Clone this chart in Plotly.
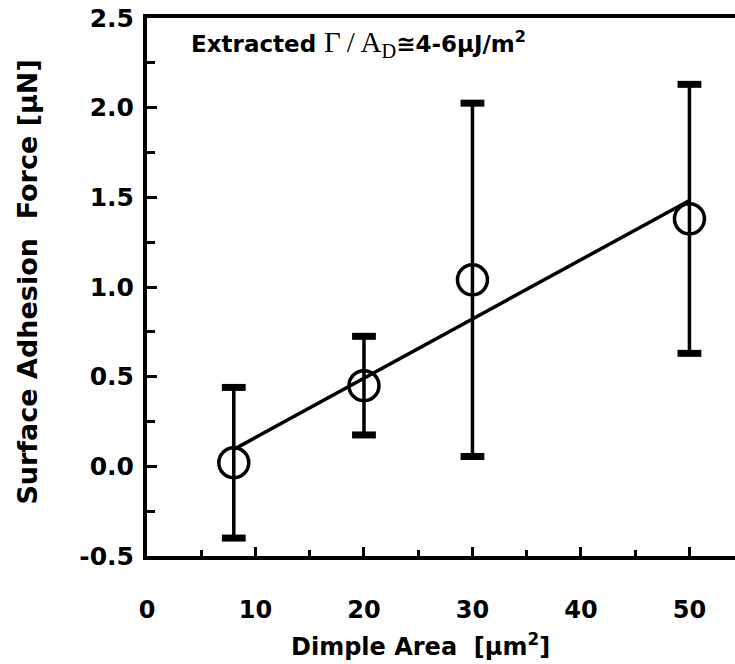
import numpy as np
import plotly.graph_objects as go

# Measured adhesion force vs. dimple area
dimple_area = [8, 20, 30, 50]                 # µm²
adhesion_force = [0.02, 0.45, 1.04, 1.38]     # µN
force_error = [0.42, 0.275, 0.985, 0.75]      # µN (± one std. dev.)

y_tick_vals = [-0.5, 0.0, 0.5, 1.0, 1.5, 2.0, 2.5]
y_tick_text = ["-0.5", "0.0", "0.5", "1.0", "1.5", "2.0", "2.5"]
x_tick_vals = [0, 10, 20, 30, 40, 50]
x_tick_text = ["0", "10", "20", "30", "40", "50"]

FONT = "DejaVu Sans, Arial, sans-serif"
SERIF = "'Liberation Serif', 'Times New Roman', serif"
INK = "#000000"

# Linear fit through the measured points
slope, intercept = np.polyfit(dimple_area, adhesion_force, 1)
fit_x = [min(dimple_area), max(dimple_area)]
fit_y = [slope * v + intercept for v in fit_x]

fig = go.Figure()

fig.add_trace(go.Scatter(
    x=fit_x, y=fit_y, mode="lines",
    line=dict(color=INK, width=3.5),
    showlegend=False, hoverinfo="skip",
))

fig.add_trace(go.Scatter(
    x=dimple_area, y=adhesion_force, mode="markers",
    marker=dict(symbol="circle-open", size=30, color=INK, line=dict(width=3.5, color=INK)),
    error_y=dict(type="data", array=force_error, visible=True,
                 color=INK, thickness=3.5, width=9),
    showlegend=False,
))

# Heavy caps on the error bars
cap_x = dimple_area + dimple_area
cap_y = [f + e for f, e in zip(adhesion_force, force_error)] + \
        [f - e for f, e in zip(adhesion_force, force_error)]
fig.add_trace(go.Scatter(
    x=cap_x, y=cap_y, mode="markers",
    marker=dict(symbol="line-ew", size=17, color=INK, line=dict(width=7, color=INK)),
    showlegend=False, hoverinfo="skip",
))

fig.update_layout(
    width=735, height=664,
    margin=dict(l=147, r=0, t=18, b=108),
    paper_bgcolor="white", plot_bgcolor="white",
    font=dict(family=FONT, color=INK, size=24),
    showlegend=False,
    xaxis=dict(
        range=[0, 54.2],
        tickvals=x_tick_vals, ticktext=x_tick_text,
        ticks="inside", ticklen=9, tickwidth=3, tickcolor=INK,
        minor=dict(dtick=5, tick0=0, ticks="inside", ticklen=6, tickwidth=3, tickcolor=INK),
        showline=True, linewidth=4, linecolor=INK, mirror=True,
        showgrid=False, zeroline=False,
        tickfont=dict(family=FONT, size=24, color=INK, weight="bold"),
        ticklabelstandoff=29,
    ),
    yaxis=dict(
        range=[-0.5, 2.5],
        tickvals=y_tick_vals, ticktext=y_tick_text,
        ticks="inside", ticklen=10, tickwidth=3, tickcolor=INK,
        minor=dict(dtick=0.25, tick0=0, ticks="inside", ticklen=8, tickwidth=3, tickcolor=INK),
        showline=True, linewidth=4, linecolor=INK,
        showgrid=False, zeroline=False,
        tickfont=dict(family=FONT, size=25, color=INK, weight="bold"),
        ticklabelstandoff=4,
    ),
)

fig.add_annotation(
    xref="paper", yref="paper", x=0.4643, y=-0.1654,
    text="Dimple Area  [μm<sup>2</sup>]", showarrow=False,
    xanchor="center", yanchor="middle",
    font=dict(family=FONT, size=24, color=INK, weight="bold"),
)
fig.add_annotation(
    xref="paper", yref="paper", x=-0.2024, y=0.51,
    text="Surface Adhesion  Force [μN]", showarrow=False, textangle=-90,
    xanchor="center", yanchor="middle",
    font=dict(family=FONT, size=27, color=INK, weight="bold"),
)
fig.add_annotation(
    xref="paper", yref="paper", x=0.0714, y=0.9517,
    text=("Extracted <span style=\"font-family:" + SERIF.replace('"', "'") +
          ";font-weight:normal;font-size:29px\">Γ\u2009/\u2009A<sub>D</sub></span>"
          "≅4-6μJ/m<sup>2</sup>"),
    showarrow=False, xanchor="left", yanchor="middle",
    font=dict(family=FONT, size=23, color=INK, weight="bold"),
)

fig.write_html("out.html")
